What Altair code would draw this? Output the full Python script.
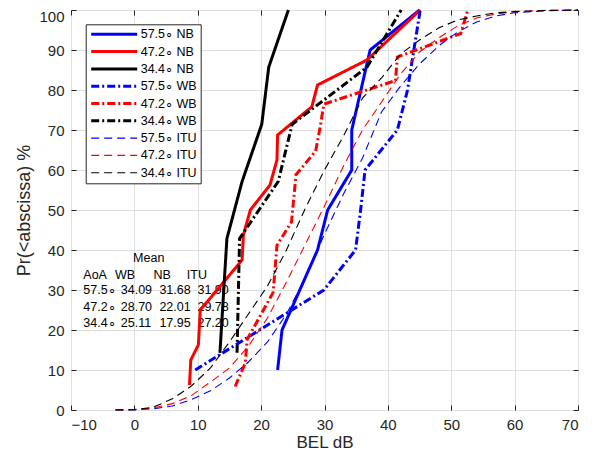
import altair as alt
import pandas as pd

FONT = "Liberation Sans"
AX = "#262626"

# ---- series definitions (legend order) ----
names = ["57.5∘ NB", "47.2∘ NB", "34.4∘ NB",
         "57.5∘ WB", "47.2∘ WB", "34.4∘ WB",
         "57.5∘ ITU", "47.2∘ ITU", "34.4∘ ITU"]
colors = ["#0000ff", "#ff0000", "#000000"] * 3
dashes = [[1, 0]] * 3 + [[8, 3, 2, 3]] * 3 + [[8, 5]] * 3
widths = [3, 3, 3, 3, 3, 3, 1.1, 1.1, 1.1]

# ---- NB (measured, narrowband) ----
nb575_x = [22.6, 23.3, 28.9, 30.5, 34.3, 34.3, 37.2, 45.0]
nb575_y = [10, 20, 40, 50, 60, 70, 90, 100]
nb472_x = [8.7, 8.9, 10.1, 10.4, 17.0, 17.2, 18.3, 21.4, 22.5, 22.6, 28.0, 28.9, 36.7, 45.1]
nb472_y = [6.25, 12.5, 16.3, 25, 37.5, 43.75, 50, 56.25, 62.5, 68.75, 75.8, 81.25, 87.5, 100]
nb344_x = [13.5, 14.6, 17.0, 20.1, 21.2, 24.3]
nb344_y = [14.29, 42.86, 57.14, 71.43, 85.71, 100]

# ---- WB (measured, wideband) ----
wb575_x = [9.6, 29.9, 34.9, 35.7, 36.4, 41.5, 43.1, 45.1]
wb575_y = [10, 30, 40, 50, 60, 70, 80, 100]
wb472_x = [15.9, 17.5, 17.8, 21.9, 22.5, 24.8, 25.5, 28.6, 29.3, 29.9, 41.2, 41.5, 51.5, 52.6]
wb472_y = [5.88, 11.76, 17.65, 29.41, 41.18, 47.06, 58.82, 64.71, 70.59, 76.47, 82.35, 88.24, 94.12, 100]
wb344_x = [16.2, 16.6, 22.7, 24.9, 36.7, 42.1]
wb344_y = [14.29, 42.86, 57.14, 71.43, 85.71, 100]

# ---- ITU model curves ----
itu_x = [-3, 0, 3, 6, 9, 12, 15, 18, 21, 24, 27, 30, 33, 36, 39, 42, 45, 48, 51, 54, 57, 60, 65, 70]
itu575_y = [0, 0.05, 0.3, 1.0, 2.6, 4.8, 8, 12, 17, 24, 33, 44, 54, 63, 74.5, 81, 86.5, 91, 94.5, 97, 98.5, 99.3, 99.8, 100]
itu472_y = [0, 0.1, 0.5, 1.6, 3.6, 7, 10.5, 16, 23, 32, 41.5, 51, 61, 70, 77, 84, 89.5, 93, 96, 98, 99, 99.6, 99.9, 100]
itu344_y = [0, 0.1, 0.7, 2.8, 6.0, 10.5, 17, 24, 31, 40, 50.5, 60, 68.5, 78, 83, 89, 92.5, 95.5, 97.5, 98.5, 99.3, 99.6, 99.9, 100]

# ---- annotation table ----
ann_text = ["Mean",
            "AoA", "WB", "NB", "ITU",
            "57.5∘", "34.09", "31.68", "31.90",
            "47.2∘", "28.70", "22.01", "29.78",
            "34.4∘", "25.11", "17.95", "27.20"]
ann_x = [-0.2,
         -8.06, -3.05, 3.0, 8.28,
         -8.06, -2.15, 3.95, 9.95,
         -8.06, -2.15, 3.95, 9.95,
         -8.06, -2.15, 3.95, 9.95]
ann_y = [38.0,
         33.75, 33.75, 33.75, 33.75,
         29.9, 29.9, 29.9, 29.9,
         25.75, 25.75, 25.75, 25.75,
         21.75, 21.75, 21.75, 21.75]


def frame(name, xs, ys):
    return pd.DataFrame({"x": xs, "y": ys, "series": name, "i": range(len(xs))})


nb_df = pd.concat([frame(names[0], nb575_x, nb575_y),
                   frame(names[1], nb472_x, nb472_y),
                   frame(names[2], nb344_x, nb344_y)])
wb_df = pd.concat([frame(names[3], wb575_x, wb575_y),
                   frame(names[4], wb472_x, wb472_y),
                   frame(names[5], wb344_x, wb344_y)])
itu_df = pd.concat([frame(names[6], itu_x, itu575_y),
                    frame(names[7], itu_x, itu472_y),
                    frame(names[8], itu_x, itu344_y)])
ann_df = pd.DataFrame({"x": ann_x, "y": ann_y, "t": ann_text})

xscale = alt.Scale(domain=[-10, 70], nice=False, zero=False)
yscale = alt.Scale(domain=[0, 100], nice=False, zero=False)
xticks = list(range(-10, 71, 10))
yticks = list(range(0, 101, 10))

legend = alt.Legend(title=None, orient="none", legendX=14.7, legendY=14.3,
                    symbolType="stroke", symbolSize=2116, clipHeight=12,
                    labelFontSize=12.5, labelFont=FONT, labelColor="#000000",
                    strokeColor=AX, fillColor="white", padding=4, rowPadding=4.3,
                    labelOffset=2, symbolOffset=0, labelLimit=300)

def enc(xaxis, yaxis):
    return dict(
        x=alt.X("x:Q", scale=xscale, axis=xaxis),
        y=alt.Y("y:Q", scale=yscale, axis=yaxis),
        color=alt.Color("series:N", scale=alt.Scale(domain=names, range=colors), legend=legend),
        strokeDash=alt.StrokeDash("series:N", scale=alt.Scale(domain=names, range=dashes), legend=legend),
        strokeWidth=alt.StrokeWidth("series:N", scale=alt.Scale(type="ordinal", domain=names, range=widths), legend=legend),
        order=alt.Order("i:Q"),
    )

x_main = alt.Axis(values=xticks, title="BEL dB", grid=True, gridColor="#dfdfdf",
                  domain=False, tickSize=5, offset=-5, tickColor=AX,
                  labelFont=FONT, labelFontSize=15, labelColor=AX, labelPadding=7,
                  titleFont=FONT, titleFontSize=17, titleFontWeight="normal",
                  titleColor=AX, titlePadding=2)
y_main = alt.Axis(values=yticks, title="Pr(<abscissa) %", grid=True, gridColor="#dfdfdf",
                  domain=False, tickSize=5, offset=-5, tickColor=AX,
                  labelFont=FONT, labelFontSize=15, labelColor=AX, labelPadding=7,
                  labelOffset={"condition": {"test": "datum.value == 100", "value": 6},
                               "value": 0},
                  titleFont=FONT, titleFontSize=18, titleFontWeight="normal",
                  titleColor=AX, titlePadding=5)
x_top = alt.Axis(values=xticks, orient="top", title=None, labels=False, grid=False,
                 domain=False, tickSize=5, offset=-5, tickColor=AX)
y_right = alt.Axis(values=yticks, orient="right", title=None, labels=False, grid=False,
                   domain=False, tickSize=5, offset=-5, tickColor=AX)

text_layer = alt.Chart(ann_df).mark_text(
    align="left", baseline="middle", font=FONT, fontSize=12.5, color="#000000"
).encode(
    x=alt.X("x:Q", scale=xscale, axis=None),
    y=alt.Y("y:Q", scale=yscale, axis=None),
    text="t:N",
)

nb_layer = alt.Chart(nb_df).mark_line(strokeCap="butt").encode(**enc(x_main, y_main))
wb_layer = alt.Chart(wb_df).mark_line(strokeCap="butt").encode(**enc(None, None))
itu_layer = alt.Chart(itu_df).mark_line(strokeCap="butt").encode(**enc(x_top, y_right))

chart = alt.layer(text_layer, nb_layer, wb_layer, itu_layer).resolve_axis(
    x="independent", y="independent"
).properties(
    width=507, height=400, autosize="none",
    padding={"left": 63, "top": 2, "right": 10, "bottom": 42},
).configure_view(stroke=AX, strokeWidth=1)

chart.save("out.html", embed_options={"renderer": "svg", "actions": False})
